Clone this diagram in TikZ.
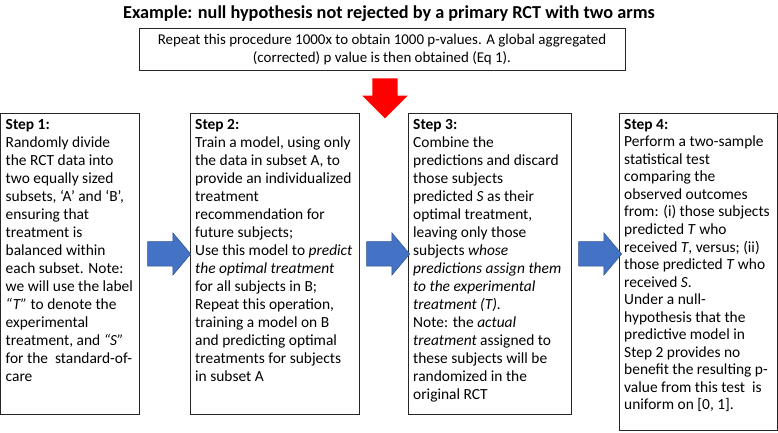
\documentclass[tikz,border=0pt]{standalone}
\usepackage{fontspec}
\setmainfont{Carlito}
\usetikzlibrary{shapes.arrows}

\begin{document}
\begin{tikzpicture}[x = 1bp, y = -1bp]
\tikzstyle{boxStyle}=[draw = black!85, line width = 0.8bp, inner sep = 0pt, anchor = north west]
\tikzstyle{textStyle}=[anchor = north west, align = left, inner xsep = 5bp, inner ysep = 6bp, font = \fontsize{15.5}{18.1}\selectfont]
\tikzstyle{blueArrow}=[shape = single arrow, draw = {rgb,255:red,47; green,82; blue,143}, fill = {rgb,255:red,68; green,114; blue,196}, line width = 0.5bp, inner xsep = 0pt, inner ysep = 12bp, single arrow head extend = 9bp, single arrow tip angle = 100, minimum height = 43bp]
\tikzstyle{redArrow}=[shape = single arrow, rotate = -90, fill = {rgb,255:red,255; green,0; blue,0}, inner xsep = 0pt, inner ysep = 12.5bp, single arrow head extend = 10bp, single arrow tip angle = 90, minimum height = 40bp]
\useasboundingbox (0,0) rectangle (778,433);
% title and repeat box
\node[font = \fontsize{18.3}{21}\selectfont\bfseries] (title) at (389,14) {Example: null hypothesis not rejected by a primary RCT with two arms};
\node[boxStyle, minimum width = 486bp, minimum height = 42bp, anchor = north, align = center, font = \fontsize{15}{18.2}\selectfont] (repeat) at (382,28) {Repeat this procedure 1000x to obtain 1000 p-values. A global aggregated\\(corrected) p value is then obtained (Eq 1).};
\node[redArrow] (down) at (385,92) {};
% step boxes
\node[boxStyle, minimum width = 138.5bp, minimum height = 301bp] (s1) at (0.5,113) {};
\node[boxStyle, minimum width = 169bp, minimum height = 301bp] (s2) at (190,113) {};
\node[boxStyle, minimum width = 163bp, minimum height = 301bp] (s3) at (408,113) {};
\node[boxStyle, minimum width = 158bp, minimum height = 317bp] (s4) at (619,113) {};
\node[textStyle] (t1) at (s1.north west) {\textbf{Step 1:}\\Randomly divide\\the RCT data into\\two equally sized\\subsets, ‘A’ and ‘B’,\\ensuring that\\treatment is\\balanced within\\each subset. Note:\\we will use the label\\\textit{“T”} to denote the\\experimental\\treatment, and \textit{“S”}\\for the\ \ standard-of-\\care};
\node[textStyle] (t2) at (s2.north west) {\textbf{Step 2:}\\Train a model, using only\\the data in subset A, to\\provide an individualized\\treatment\\recommendation for\\future subjects;\\Use this model to \textit{predict}\\\textit{the optimal treatment}\\for all subjects in B;\\Repeat this operation,\\training a model on B\\and predicting optimal\\treatments for subjects\\in subset A};
\node[textStyle] (t3) at (s3.north west) {\textbf{Step 3:}\\Combine the\\predictions and discard\\those subjects\\predicted \textit{S} as their\\optimal treatment,\\leaving only those\\subjects \textit{whose}\\\textit{predictions assign them}\\\textit{to the experimental}\\\textit{treatment (T).}\\Note: the \textit{actual}\\\textit{treatment} assigned to\\these subjects will be\\randomized in the\\original RCT};
\node[textStyle, font = \fontsize{15.5}{17.6}\selectfont] (t4) at (s4.north west) {\textbf{Step 4:}\\Perform a two-sample\\statistical test\\comparing the\\observed outcomes\\from: (i) those subjects\\predicted \textit{T} who\\received \textit{T}, versus; (ii)\\those predicted \textit{T} who\\received \textit{S}.\\Under a null-\\hypothesis that the\\predictive model in\\Step 2 provides no\\benefit the resulting p-\\value from this test\ \ is\\uniform on [0, 1].};
% arrows between steps
\node[blueArrow] (a12) at (164,254) {};
\node[blueArrow] (a23) at (383,254) {};
\node[blueArrow] (a34) at (595,254) {};
\end{tikzpicture}
\end{document}
